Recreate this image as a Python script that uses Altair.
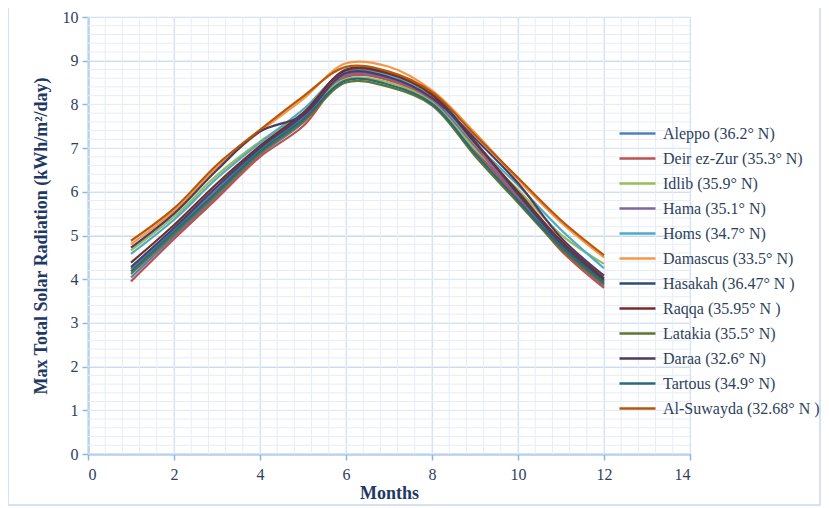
import altair as alt
import pandas as pd

months = [1, 2, 3, 4, 5, 6, 7, 8, 9, 10, 11, 12]

cities = [
    "Aleppo (36.2° N)", "Deir ez-Zur (35.3° N)", "Idlib (35.9° N)", "Hama (35.1° N)",
    "Homs (34.7° N)", "Damascus (33.5° N)", "Hasakah (36.47° N )", "Raqqa (35.95° N )",
    "Latakia (35.5° N)", "Daraa (32.6° N)", "Tartous (34.9° N)", "Al-Suwayda (32.68° N )",
]
colors = ["#4F81BD", "#C0504D", "#9BBB59", "#8064A2", "#4BACC6", "#F79646",
          "#2C4D75", "#772C2A", "#5F7530", "#4D3B62", "#276A7C", "#B65708"]

aleppo     = [4.04, 4.98, 5.90, 6.85, 7.58, 8.65, 8.57, 8.10, 7.00, 5.88, 4.72, 3.85]
deir_ezzur = [3.95, 4.92, 5.85, 6.80, 7.50, 8.62, 8.55, 8.08, 6.95, 5.85, 4.66, 3.80]
idlib      = [4.66, 5.43, 6.38, 7.15, 7.80, 8.58, 8.50, 8.05, 6.98, 6.05, 5.02, 4.35]
hama       = [4.24, 5.13, 6.06, 6.95, 7.70, 8.68, 8.60, 8.12, 7.05, 5.92, 4.78, 3.95]
homs       = [4.58, 5.36, 6.31, 7.12, 7.88, 8.75, 8.66, 8.18, 7.10, 6.15, 5.13, 4.25]
damascus   = [4.80, 5.56, 6.56, 7.38, 8.12, 8.94, 8.86, 8.32, 7.35, 6.28, 5.30, 4.50]
hasakah    = [4.28, 5.17, 6.12, 7.00, 7.75, 8.80, 8.72, 8.25, 7.15, 5.95, 4.82, 3.98]
raqqa      = [4.38, 5.24, 6.19, 7.05, 7.80, 8.78, 8.70, 8.22, 7.12, 6.00, 4.88, 4.02]
latakia    = [4.12, 5.03, 5.95, 6.88, 7.60, 8.50, 8.40, 7.98, 6.82, 5.75, 4.70, 3.88]
daraa      = [4.72, 5.50, 6.50, 7.38, 7.75, 8.72, 8.62, 8.15, 7.22, 6.20, 4.95, 4.08]
tartous    = [4.18, 5.08, 6.00, 6.92, 7.65, 8.55, 8.45, 8.02, 6.88, 5.80, 4.75, 3.92]
al_suwayda = [4.88, 5.62, 6.62, 7.42, 8.18, 8.86, 8.75, 8.28, 7.30, 6.32, 5.35, 4.55]

series = [aleppo, deir_ezzur, idlib, hama, homs, damascus, hasakah, raqqa,
          latakia, daraa, tartous, al_suwayda]

x_minor = [i * 0.4 for i in range(36) if i * 0.4 <= 14.0001]
y_minor = [round(i * 0.2, 1) for i in range(51)]

rows = []
for name, vals in zip(cities, series):
    for m, v in zip(months, vals):
        rows.append({"Month": m, "Value": v, "City": name})
df = pd.DataFrame(rows)

FONT = "Liberation Serif"
TEXT = "#2E3F5C"
TITLE = "#1F3864"
AXIS = "#8EB4E3"

xs = alt.Scale(domain=[0, 14], nice=False)
ys = alt.Scale(domain=[0, 10], nice=False)

vminor = alt.Chart(pd.DataFrame({"v": x_minor})).mark_rule(
    color="#E6EDF7", strokeWidth=1).encode(x=alt.X("v:Q", scale=xs))
hminor = alt.Chart(pd.DataFrame({"v": y_minor})).mark_rule(
    color="#E6EDF7", strokeWidth=1).encode(y=alt.Y("v:Q", scale=ys))

frame = alt.Chart(pd.DataFrame({"a": [0]})).mark_rect(
    fill=None, stroke="#C9D9EE", strokeWidth=1.5, clip=False).encode(
    x=alt.value(-80), x2=alt.value(732), y=alt.value(-12), y2=alt.value(488))

lines = alt.Chart(df).mark_line(interpolate="catmull-rom", strokeWidth=2.2).encode(
    x=alt.X("Month:Q", scale=xs,
            axis=alt.Axis(title="Months", values=list(range(0, 15, 2)), grid=True,
                          gridColor="#C9D9EE", gridWidth=1.2, domainColor=AXIS,
                          domainWidth=2, tickColor=AXIS, tickSize=6, tickWidth=1.5,
                          labelFont=FONT, labelFontSize=16, labelColor=TEXT,
                          labelPadding=6, titleFont=FONT, titleFontSize=18,
                          titleFontWeight="bold", titleColor=TITLE, titlePadding=2)),
    y=alt.Y("Value:Q", scale=ys,
            axis=alt.Axis(title="Max Total Solar Radiation (kWh/m²/day)",
                          values=list(range(0, 11)), grid=True,
                          gridColor="#C9D9EE", gridWidth=1.2, domainColor=AXIS,
                          domainWidth=2, tickColor=AXIS, tickSize=6, tickWidth=1.5,
                          labelFont=FONT, labelFontSize=16, labelColor=TEXT,
                          labelPadding=4, titleFont=FONT, titleFontSize=18,
                          titleFontWeight="bold", titleColor=TITLE, titlePadding=12)),
    color=alt.Color("City:N", sort=cities,
                    scale=alt.Scale(domain=cities, range=colors),
                    legend=alt.Legend(orient="none", legendX=530, legendY=104,
                                      title=None, symbolType="stroke",
                                      symbolSize=1296, symbolStrokeWidth=2.5,
                                      labelFont=FONT, labelFontSize=16,
                                      labelColor=TEXT, labelOffset=6,
                                      labelLimit=300, rowPadding=0,
                                      clipHeight=25)),
    order=alt.Order("Month:Q"),
)

chart = alt.layer(frame, vminor, hminor, lines).properties(
    width=602, height=437,
    autosize=alt.AutoSizeParams(type="none"),
    padding={"left": 80, "top": 9, "right": 131, "bottom": 52},
).configure_view(stroke=None).configure(background="white")

chart.save("out.html", embed_options={"renderer": "svg", "actions": False})
